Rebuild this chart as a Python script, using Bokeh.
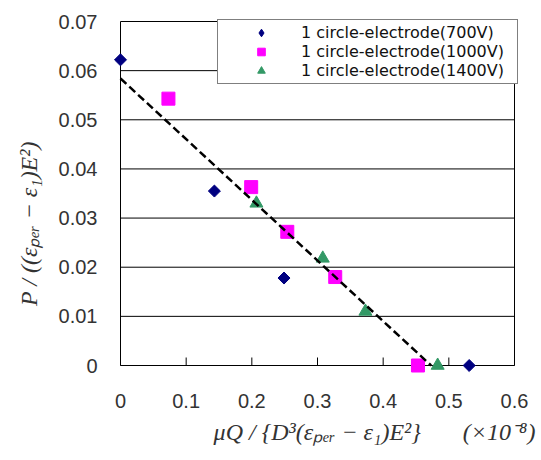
from math import pi
from bokeh.plotting import figure
from bokeh.models import Range1d, FixedTicker, Legend, LegendItem
from bokeh.embed import file_html
from bokeh.resources import INLINE

# ---------------- data ----------------
x_700 = [0.0, 0.143, 0.249, 0.531]
y_700 = [0.0622, 0.0355, 0.0178, 0.0]

x_1000 = [0.073, 0.199, 0.254, 0.327, 0.453]
y_1000 = [0.0543, 0.0363, 0.0272, 0.0180, 0.0]

x_1400 = [0.207, 0.308, 0.373, 0.483]
y_1400 = [0.0330, 0.0218, 0.0110, 0.0]

fit_x = [0.0, 0.473]
fit_y = [0.0584, 0.0]

series_labels = ["1 circle-electrode(700V)",
                 "1 circle-electrode(1000V)",
                 "1 circle-electrode(1400V)"]

x_ticks = [0, 0.1, 0.2, 0.3, 0.4, 0.5, 0.6]
x_tick_labels = ["0", "0.1", "0.2", "0.3", "0.4", "0.5", "0.6"]
y_ticks = [0, 0.01, 0.02, 0.03, 0.04, 0.05, 0.06, 0.07]
y_tick_labels = ["0", "0.01", "0.02", "0.03", "0.04", "0.05", "0.06", "0.07"]

x_title = "μQ / {D³(εₚₑᵣ − ε₁)E²}"
y_title = "P / ((εₚₑᵣ − ε₁)E²)"
x_unit = "(×10⁻⁸)"

# ---------------- layout ----------------
FW, FH = 410, 360          # frame size in px
PAD = 8                    # px padding so edge markers are not clipped
LEFT, TOP, RIGHT, BOTTOM = 112, 13, 19, 85
xmin, xmax = x_ticks[0], x_ticks[-1]
ymin, ymax = y_ticks[0], y_ticks[-1]
sx = (xmax - xmin) / (FW - 2 * PAD)
sy = (ymax - ymin) / (FH - 2 * PAD)

p = figure(width=LEFT + FW + RIGHT, height=TOP + FH + BOTTOM,
           frame_width=FW, frame_height=FH,
           min_border_left=LEFT, min_border_right=RIGHT,
           min_border_top=TOP, min_border_bottom=BOTTOM,
           x_range=Range1d(xmin - PAD * sx, xmax + PAD * sx),
           y_range=Range1d(ymin - PAD * sy, ymax + PAD * sy),
           output_backend="svg", toolbar_location=None)
p.outline_line_color = None
p.xgrid.visible = False
p.ygrid.visible = False
p.background_fill_color = "white"
p.border_fill_color = "white"

for ax, ticks, labels, standoff in ((p.xaxis, x_ticks, x_tick_labels, 20),
                                    (p.yaxis, y_ticks, y_tick_labels, 15)):
    ax.ticker = FixedTicker(ticks=ticks)
    ax.major_label_overrides = dict(zip(ticks, labels))
    ax.axis_line_color = None
    ax.major_tick_line_color = None
    ax.minor_tick_line_color = None
    ax.major_tick_in = 0
    ax.major_tick_out = 0
    ax.major_label_standoff = standoff
    ax.major_label_text_font = "Liberation Sans"
    ax.major_label_text_font_size = "20px"
    ax.major_label_text_color = "#333333"
    ax.axis_label_text_font = "Liberation Serif"
    ax.axis_label_text_font_style = "italic"
    ax.axis_label_text_font_size = "24px"
    ax.axis_label_text_color = "#333333"

NB = "\u00a0"
# title and its unit share the x-axis label row; no-break spaces set their spacing
p.xaxis.axis_label = NB * 19 + x_title + NB * 7 + x_unit
p.xaxis.axis_label_standoff = 8
# trailing no-break spaces move the visible title down along the axis
p.yaxis.axis_label = y_title + NB * 10
p.yaxis.axis_label_standoff = 14

# horizontal grid lines (incl. top and bottom of frame)
p.segment(x0=[xmin] * len(y_ticks), y0=y_ticks, x1=[xmax] * len(y_ticks), y1=y_ticks,
          line_color="black", line_width=1)
# left / right border
p.segment(x0=[xmin, xmax], y0=[ymin, ymin], x1=[xmin, xmax], y1=[ymax, ymax],
          line_color="black", line_width=1)
# inward x ticks
p.segment(x0=x_ticks, y0=[ymin] * len(x_ticks), x1=x_ticks,
          y1=[ymin + 8 * sy] * len(x_ticks), line_color="black", line_width=1)

r1 = p.scatter(x_700, y_700, marker="square", size=8.5, angle=pi / 4,
               fill_color="#000080", line_color="#000080")
r2 = p.scatter(x_1000, y_1000, marker="square", size=13,
               fill_color="#FF00FF", line_color="#FF00FF")
r3 = p.scatter(x_1400, y_1400, marker="triangle", size=13,
               fill_color="#339966", line_color="#339966")
# legend key for the 700V series (a NaN point: shown only in the legend)
r1_key = p.scatter([float("nan")], [float("nan")], marker="diamond", size=10,
                   fill_color="#000080", line_color="#000080")

p.line(fit_x, fit_y, line_color="black", line_width=2.5, line_dash="8 4")

legend = Legend(items=[LegendItem(label=series_labels[0], renderers=[r1_key]),
                       LegendItem(label=series_labels[1], renderers=[r2]),
                       LegendItem(label=series_labels[2], renderers=[r3])],
                location=(105, 289))
legend.border_line_color = "black"
legend.border_line_width = 1
legend.background_fill_color = "white"
legend.background_fill_alpha = 1.0
legend.label_text_font = "DejaVu Sans"
legend.label_text_font_size = "16px"
legend.label_text_color = "#111111"
legend.glyph_width = 80
legend.glyph_height = 19
legend.label_height = 19
legend.label_width = 213
legend.label_standoff = 0
legend.padding = 3
legend.spacing = 0
legend.margin = 0
p.add_layout(legend)

open("out.html", "w").write(file_html(p, INLINE))
